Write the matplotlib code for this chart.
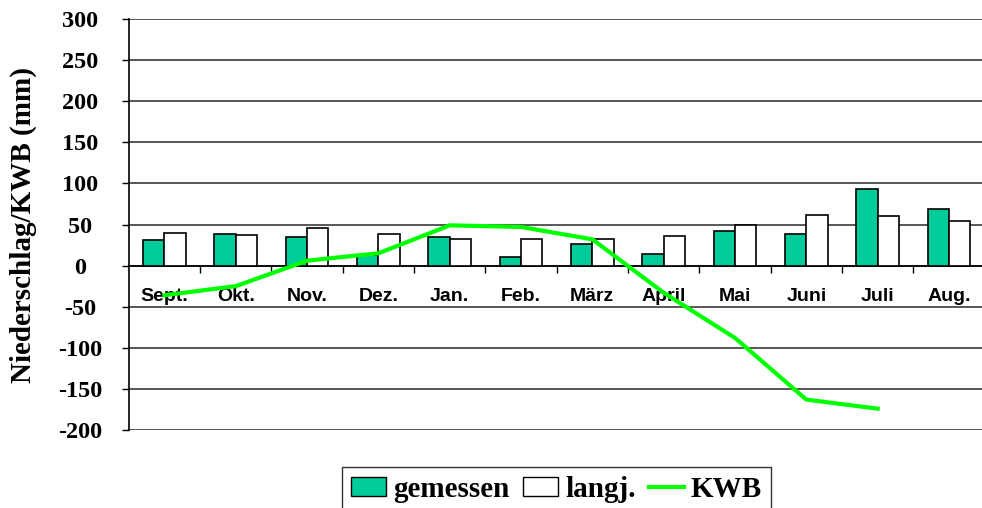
import numpy as np
import matplotlib
matplotlib.use('Agg')
import matplotlib.pyplot as plt
from matplotlib.patches import Patch
from matplotlib.lines import Line2D

months = ['Sept.', 'Okt.', 'Nov.', 'Dez.', 'Jan.', 'Feb.', 'März', 'April',
          'Mai', 'Juni', 'Juli', 'Aug.']
gemessen = [31, 38.5, 35, 12.5, 35, 11, 26, 14, 42, 38.5, 93, 69]
langj = [40, 37, 46, 38.5, 32, 32, 32, 35.5, 49, 61.5, 60, 54]
# KWB has no value for Aug.
kwb = [-36, -25, 6, 15, 49, 47, 32, -33, -88, -163, -174]
yticks = [-200, -150, -100, -50, 0, 50, 100, 150, 200, 250, 300]

teal = '#00CC99'
green = '#00FF00'
serif = 'Liberation Serif'
sans = 'Liberation Sans'

fig = plt.figure(figsize=(9.82, 5.08), dpi=100)
ax = fig.add_axes([0.1311, 0.1535, 0.8716, 0.8091])

# spine position first: moving it resets the ticks
ax.spines['top'].set_visible(False)
ax.spines['right'].set_visible(False)
ax.spines['bottom'].set_position(('data', 0))
ax.spines['bottom'].set_linewidth(1.2)
ax.spines['left'].set_linewidth(1.2)

x = np.arange(len(months))
w = 0.3
ax.bar(x - w / 2, gemessen, width=w, color=teal, edgecolor='black',
       linewidth=1.2, zorder=3)
ax.bar(x + w / 2, langj, width=w, color='white', edgecolor='black',
       linewidth=1.2, zorder=3)
ax.plot(x[:len(kwb)], kwb, color=green, linewidth=3, zorder=5,
        solid_joinstyle='miter')

ax.set_xlim(-0.5, 11.5)
ax.set_ylim(-200, 300)
ax.yaxis.grid(True, color='#2a2a2a', linewidth=1.1, zorder=0)
ax.set_axisbelow(True)

ax.tick_params(axis='y', direction='out', length=5, width=1, pad=30)
ax.tick_params(axis='x', which='major', length=0, pad=16)
ax.tick_params(axis='x', which='minor', direction='out', length=5, width=1)

ax.set_yticks(yticks)
ax.set_yticklabels([str(v) for v in yticks])
ax.set_xticks(x)
ax.set_xticklabels(months)
ax.set_xticks(np.arange(0.5, 11, 1), minor=True)

for lab in ax.get_yticklabels():
    lab.set_fontfamily(serif)
    lab.set_fontweight('bold')
    lab.set_fontsize(17.5)
    lab.set_horizontalalignment('center')
for lab in ax.get_xticklabels():
    lab.set_fontfamily(sans)
    lab.set_fontweight('bold')
    lab.set_fontsize(14)

ax.set_ylabel('Niederschlag/KWB (mm)', fontfamily=serif, fontweight='bold',
              fontsize=21)
ax.yaxis.set_label_coords(-0.107, 0.5)

handles = [Patch(facecolor=teal, edgecolor='black', linewidth=1),
           Patch(facecolor='white', edgecolor='black', linewidth=1),
           Line2D([], [], color=green, linewidth=3)]
leg = fig.legend(handles, ['gemessen', 'langj.', 'KWB'], ncol=3,
                 loc='upper center', bbox_to_anchor=(0.5667, 0.0807),
                 prop={'family': serif, 'weight': 'bold', 'size': 21},
                 frameon=True, fancybox=False, edgecolor='black',
                 handlelength=1.2, handleheight=0.6, handletextpad=0.25,
                 columnspacing=0.45, borderpad=0.3, borderaxespad=0)
leg.get_frame().set_linewidth(1)

fig.savefig('out.png', dpi=100)
